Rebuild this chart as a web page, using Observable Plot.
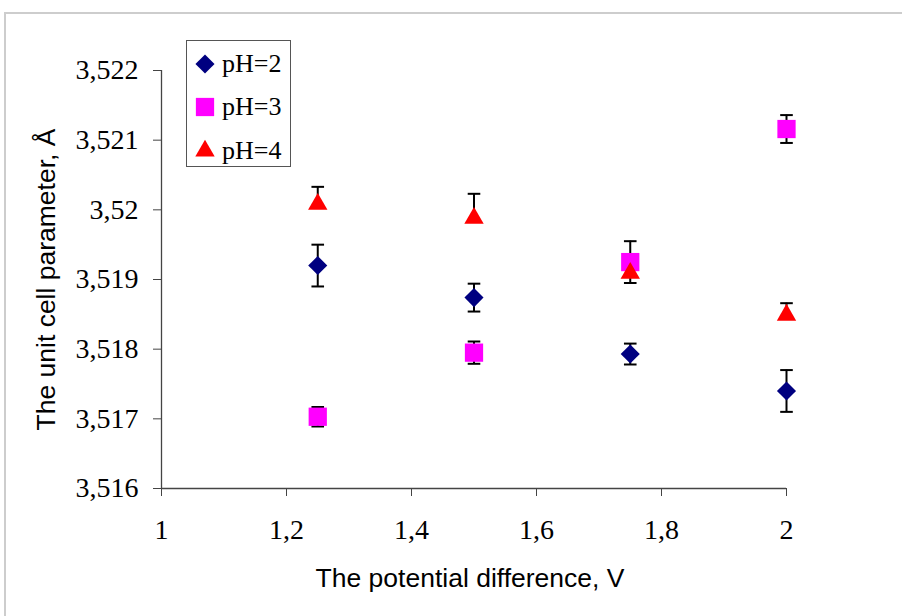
<!DOCTYPE html>
<html>
<head>
<meta charset="utf-8">
<script src="https://cdn.jsdelivr.net/npm/d3@7"></script>
<script src="https://cdn.jsdelivr.net/npm/@observablehq/plot@0.6"></script>
<style>
  html, body { margin: 0; padding: 0; background: #fff; }
  #wrap { position: relative; width: 902px; height: 616px; overflow: hidden; }
  #frameBorder { position: absolute; left: 4px; top: 12px; width: 1000px; height: 700px;
    border-left: 2px solid #cdcdcd; border-top: 2px solid #cdcdcd; pointer-events: none; }
  #legend { position: absolute; left: 186px; top: 40px; width: 103px; height: 125px;
    border: 1px solid #555; background: #fff; font-family: "Liberation Serif", serif; font-size: 26px; }
  .item { position: absolute; left: 0; height: 30px; display: flex; align-items: center; }
  .item svg { width: 36px; height: 30px; }
  .item span { margin-left: -1px; line-height: 30px; color: #000; }
</style>
</head>
<body>
<div id="wrap">
  <div id="chart"></div>
  <div id="frameBorder"></div>
  <div id="legend"></div>
</div>
<script>
// ---- data ----
const xValues = [1.25, 1.5, 1.75, 2];
const seriesNames = ["pH=2", "pH=3", "pH=4"];
const seriesColors = ["#000080", "#ff00ff", "#ff0000"];
const ph2 = [3.5192, 3.51874, 3.51793, 3.5174];
const ph2ErrUp = [0.0003, 0.0002, 0.00015, 0.0003];
const ph2ErrDown = [0.0003, 0.0002, 0.00015, 0.0003];
const ph3 = [3.51703, 3.51795, 3.51925, 3.52116];
const ph3ErrUp = [0.00014, 0.00016, 0.0003, 0.0002];
const ph3ErrDown = [0.00014, 0.00016, 0.0003, 0.0002];
const ph4 = [3.52008, 3.51988, 3.51909, 3.51849];
const ph4ErrUp = [0.00025, 0.00035, 0.00015, 0.00017];
const ph4ErrDown = [0, 0, 0, 0];
const xTicks = [1, 1.2, 1.4, 1.6, 1.8, 2];
const yTicks = [3.516, 3.517, 3.518, 3.519, 3.52, 3.521, 3.522];
const xTitle = "The potential difference, V";
const yTitle = "The unit cell parameter, Å";

const seriesValues = [ph2, ph3, ph4];
const seriesUp = [ph2ErrUp, ph3ErrUp, ph4ErrUp];
const seriesDown = [ph2ErrDown, ph3ErrDown, ph4ErrDown];
const symbols = [d3.symbolDiamond2, d3.symbolSquare, d3.symbolTriangle];
const radii = [8.6, 10.3, 7.2];

const rows = [];
seriesNames.forEach((name, s) => {
  xValues.forEach((x, i) => rows.push({
    series: name, s, x, y: seriesValues[s][i], up: seriesUp[s][i], down: seriesDown[s][i]
  }));
});

const capSymbol = { draw(ctx) { ctx.moveTo(-6.3, 0); ctx.lineTo(6.3, 0); } };
const fmtY = d => d3.format(".3~f")(d).replace(".", ",");
const fmtX = d => d3.format(".1~f")(d).replace(".", ",");

const serif = "'Liberation Serif', 'Times New Roman', serif";
const sans = "'Liberation Sans', Arial, sans-serif";

const plot = Plot.plot({
  width: 902,
  height: 616,
  marginLeft: 161,
  marginRight: 116,
  marginTop: 70,
  marginBottom: 128,
  style: { fontFamily: serif, fontSize: "26px", color: "#000", background: "transparent" },
  x: { domain: [1, 2] },
  y: { domain: [3.516, 3.522] },
  marks: [
    Plot.axisX({ ticks: xTicks, tickFormat: fmtX, tickSize: 8, tickPadding: 23, stroke: "#444", fontSize: 28, fontFamily: serif, label: null }),
    Plot.axisY({ ticks: yTicks, tickFormat: fmtY, tickSize: 8, tickPadding: 15, stroke: "#444", fontSize: 28, fontFamily: serif, label: null }),
    Plot.ruleY([3.516], { stroke: "#444", strokeWidth: 1.3 }),
    Plot.ruleX([1], { stroke: "#444", strokeWidth: 1.3 }),
    Plot.ruleX(rows, { x: "x", y1: d => d.y - d.down, y2: d => d.y + d.up, stroke: "#000", strokeWidth: 2 }),
    Plot.dot(rows.filter(d => d.up > 0), { x: "x", y: d => d.y + d.up, symbol: capSymbol, stroke: "#000", strokeWidth: 2, fill: "none" }),
    Plot.dot(rows.filter(d => d.down > 0), { x: "x", y: d => d.y - d.down, symbol: capSymbol, stroke: "#000", strokeWidth: 2, fill: "none" }),
    ...seriesNames.map((name, s) =>
      Plot.dot(rows.filter(d => d.s === s), { x: "x", y: "y", symbol: symbols[s], r: radii[s], fill: seriesColors[s], stroke: "none" })
    ),
    Plot.text([yTitle], { frameAnchor: "left", textAnchor: "middle", dx: -115, rotate: -90, fontFamily: sans, fontSize: 26.5, fill: "#000" }),
    Plot.text([xTitle], { frameAnchor: "bottom", textAnchor: "middle", dx: -4, dy: 98, fontFamily: sans, fontSize: 26.5, fill: "#000" })
  ]
});
document.getElementById("chart").appendChild(plot);

// legend
const legend = document.getElementById("legend");
const rowCenters = [23, 66, 110];
seriesNames.forEach((name, s) => {
  const item = document.createElement("div");
  item.className = "item";
  item.style.top = (rowCenters[s] - 15) + "px";
  const path = d3.symbol(symbols[s], Math.PI * radii[s] * radii[s])();
  item.innerHTML = `<svg viewBox="-18 -15 36 30"><path d="${path}" fill="${seriesColors[s]}"/></svg><span>${name}</span>`;
  legend.appendChild(item);
});
</script>
</body>
</html>
